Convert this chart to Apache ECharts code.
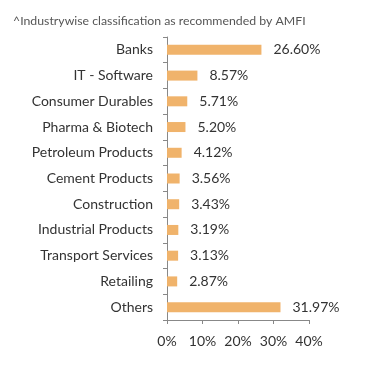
<!DOCTYPE html>
<html><head><meta charset="utf-8">
<script src="https://cdn.jsdelivr.net/npm/echarts@6/dist/echarts.min.js"></script>
<style>html,body{margin:0;padding:0;background:#fff}#c{width:391px;height:373px}</style>
</head><body><div id="c"></div>
<script>
const categories = ["Banks","IT - Software","Consumer Durables","Pharma & Biotech","Petroleum Products","Cement Products","Construction","Industrial Products","Transport Services","Retailing","Others"];
const values = [26.60,8.57,5.71,5.20,4.12,3.56,3.43,3.19,3.13,2.87,31.97];
const xTicks = [0,10,20,30,40];
const title = "^Industrywise classification as recommended by AMFI";

const chart = echarts.init(document.getElementById('c'));
chart.setOption({
  animation:false,
  title:{text:title,left:8,top:10,textStyle:{fontFamily:'Lato',fontSize:12.3,fontWeight:'normal',color:'#555'}},
  grid:{left:167,right:82,top:37,bottom:53,containLabel:false},
  xAxis:{type:'value',min:xTicks[0],max:xTicks[xTicks.length-1],interval:10,
    axisLine:{show:true,lineStyle:{color:'#888'}},
    axisTick:{show:true,length:4,lineStyle:{color:'#888'}},
    splitLine:{show:false},
    axisLabel:{formatter:'{value}%',fontFamily:'Lato',fontSize:14,color:'#333',margin:14}},
  yAxis:{type:'category',inverse:true,data:categories,
    axisLine:{show:true,lineStyle:{color:'#888'}},
    axisTick:{show:true,length:4,lineStyle:{color:'#888'}},
    axisLabel:{fontFamily:'Lato',fontSize:14,color:'#333',margin:14}},
  series:[{type:'bar',data:values,barWidth:10,
    itemStyle:{color:'#F0B36B'},
    label:{show:true,position:'right',distance:12,formatter:p=>p.value.toFixed(2)+'%',fontFamily:'Lato',fontSize:14,color:'#333'}}]
});
</script></body></html>
